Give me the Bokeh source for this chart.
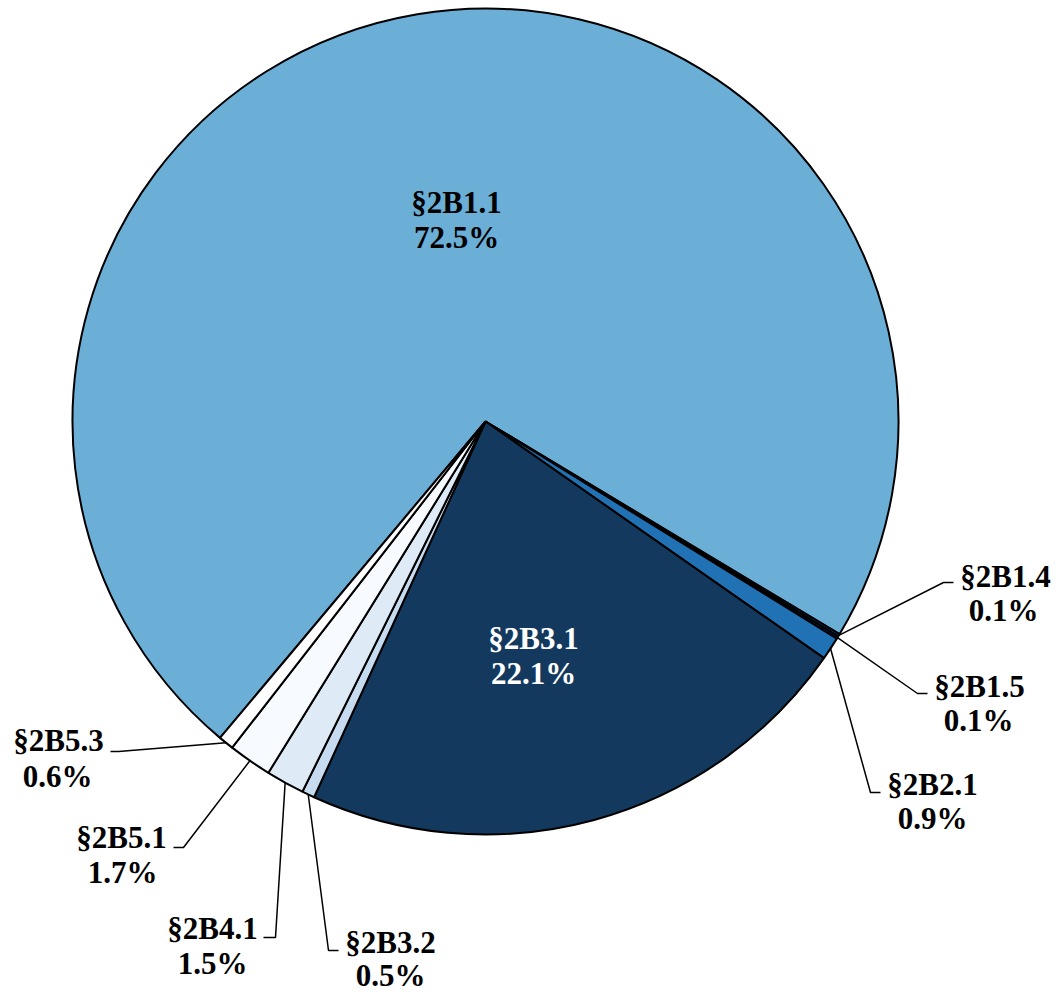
import numpy as np
from bokeh.plotting import figure
from bokeh.models import Range1d, ColumnDataSource
from bokeh.core.properties import value
from bokeh.embed import file_html
from bokeh.resources import INLINE

# ---- data ----
categories = ["§2B1.1", "§2B1.4", "§2B1.5", "§2B2.1", "§2B3.1",
              "§2B3.2", "§2B4.1", "§2B5.1", "§2B5.3"]
shares = [72.5, 0.1, 0.1, 0.9, 22.1, 0.5, 1.5, 1.7, 0.6]
colors = ["#6baed6", "#08519c", "#08306b", "#2171b5", "#133a5e",
          "#c6dbef", "#deebf7", "#f7fbff", "#ffffff"]

# ---- layout (pixel-like data space, y up) ----
W, H = 1057, 992
CX, CY, R = 485, 992 - 421, 413
START_CW = 220.0  # clockwise degrees from 12 o'clock where first slice starts

p = figure(width=W, height=H, output_backend="svg", toolbar_location=None,
           x_range=Range1d(0, W), y_range=Range1d(0, H),
           min_border=0, outline_line_color=None)
p.axis.visible = False
p.grid.visible = False
p.background_fill_color = "white"
p.border_fill_color = "white"

vals = np.array(shares, dtype=float)
frac = vals / vals.sum()
cum = np.concatenate([[0], np.cumsum(frac)])
cw_start = START_CW + cum[:-1] * 360
cw_end = START_CW + cum[1:] * 360
start_ang = np.deg2rad(90 - cw_start)
end_ang = np.deg2rad(90 - cw_end)

src = ColumnDataSource(dict(start=start_ang, end=end_ang, color=colors))
p.wedge(x=CX, y=CY, radius=R, start_angle="start", end_angle="end",
        direction="clock", fill_color="color", source=src,
        line_color="black", line_width=2)

def ypx(y):
    return 992 - y

# label layout: (line1 x, line1 y, line2 x, line2 y, elbow, end) in screen px
layout = {
    "§2B1.1": (456, 202, 456, 237, None, None),
    "§2B3.1": (533, 638, 533, 673, None, None),
    "§2B1.4": (1005, 576, 1003, 610, (943, 582), (953, 582)),
    "§2B1.5": (979, 686, 978, 720, (917, 693), (927, 693)),
    "§2B2.1": (932, 784, 932, 818, (870, 792), (880, 792)),
    "§2B3.2": (390, 942, 390, 975, (328, 950), (338, 950)),
    "§2B4.1": (212, 928, 212, 963, (275, 937), (263, 937)),
    "§2B5.1": (121, 837, 122, 872, (183, 847), (173, 847)),
    "§2B5.3": (58, 740, 57, 776, (118, 751), (110, 751)),
}

FONT = value("'Liberation Serif', 'Times New Roman', Times, serif")

xs, ys = [], []
for i, c in enumerate(categories):
    lx1, ly1, lx2, ly2, elbow, end = layout[c]
    if elbow is not None:
        mid = np.deg2rad(90 - (cw_start[i] + cw_end[i]) / 2)
        ex, ey = CX + R * np.cos(mid), CY + R * np.sin(mid)
        xs.append([ex, elbow[0], end[0]])
        ys.append([ey, ypx(elbow[1]), ypx(end[1])])
    tc = "white" if c == "§2B3.1" else "black"
    for tx, ty, txt in ((lx1, ly1, c), (lx2, ly2, f"{shares[i]:.1f}%")):
        p.text(x=[tx], y=[ypx(ty)], text=[txt], text_align="center",
               text_baseline="middle", text_font=FONT,
               text_font_style="bold", text_font_size="31px", text_color=tc)

p.multi_line(xs=xs, ys=ys, line_color="black", line_width=1.5)

open("out.html", "w").write(file_html(p, INLINE))
